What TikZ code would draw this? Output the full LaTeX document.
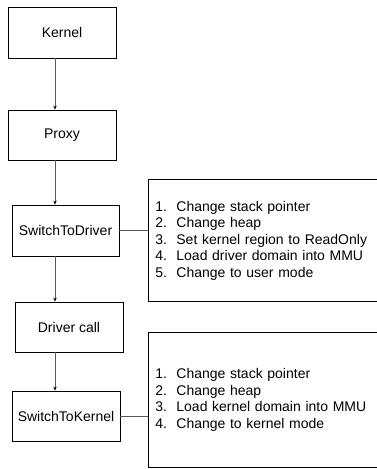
\documentclass[tikz,border=0pt]{standalone}
\usepackage{fontspec}
\setmainfont{Liberation Sans}
\usetikzlibrary{arrows.meta}
\begin{document}
\begin{tikzpicture}[x=1pt,y=-1pt,
  stepbox/.style={draw=black,line width=0.8pt,minimum width=108pt,minimum height=50pt,inner sep=0pt,
    font=\fontsize{14}{16.5}\selectfont},
  listbox/.style={draw=black,line width=0.8pt,inner xsep=7pt,inner ysep=0pt,anchor=north west,
    font=\fontsize{14}{16.5}\selectfont,align=left,text width=222pt},
  flow/.style={draw=black!65,line width=0.8pt,-{Stealth[length=4pt,width=3.5pt,black]}},
  link/.style={draw=black!65,line width=0.8pt}]
\useasboundingbox (0,0) rectangle (377,469);
\newcommand{\itm}[2]{\makebox[21pt][l]{#1}#2}

\node[stepbox,minimum height=51pt] (k) at (62,32.5) {Kernel};
\node[stepbox] (p) at (62,135) {Proxy};
\node[stepbox,minimum width=107pt,minimum height=51pt] (sd) at (65.5,230.5) {SwitchToDriver};
\node[stepbox] (dc) at (69,327) {Driver call};
\node[stepbox] (sk) at (66,416) {SwitchToKernel};

% the list boxes run on past the right border of the page
\node[listbox,minimum height=122pt] (l1) at (148,179) {%
  \itm{1.}{Change stack pointer}\\
  \itm{2.}{Change heap}\\
  \itm{3.}{Set kernel region to ReadOnly}\\
  \itm{4.}{Load driver domain into MMU}\\
  \itm{5.}{Change to user mode}};
\node[listbox,minimum height=135pt] (l2) at (148,332) {%
  \itm{1.}{Change stack pointer}\\
  \itm{2.}{Change heap}\\
  \itm{3.}{Load kernel domain into MMU}\\
  \itm{4.}{Change to kernel mode}};

\coordinate (ax) at (55,0);
\draw[flow] (k.south -| ax) -- (p.north -| ax);
\draw[flow] (p.south -| ax) -- (sd.north -| ax);
\draw[flow] (sd.south -| ax) -- (dc.north -| ax);
\draw[flow] (dc.south -| ax) -- (sk.north -| ax);

\draw[link] (sd.east) -- (sd.east -| l1.west);
\draw[link] (sk.east) -- (sk.east -| l2.west);
\end{tikzpicture}
\end{document}
